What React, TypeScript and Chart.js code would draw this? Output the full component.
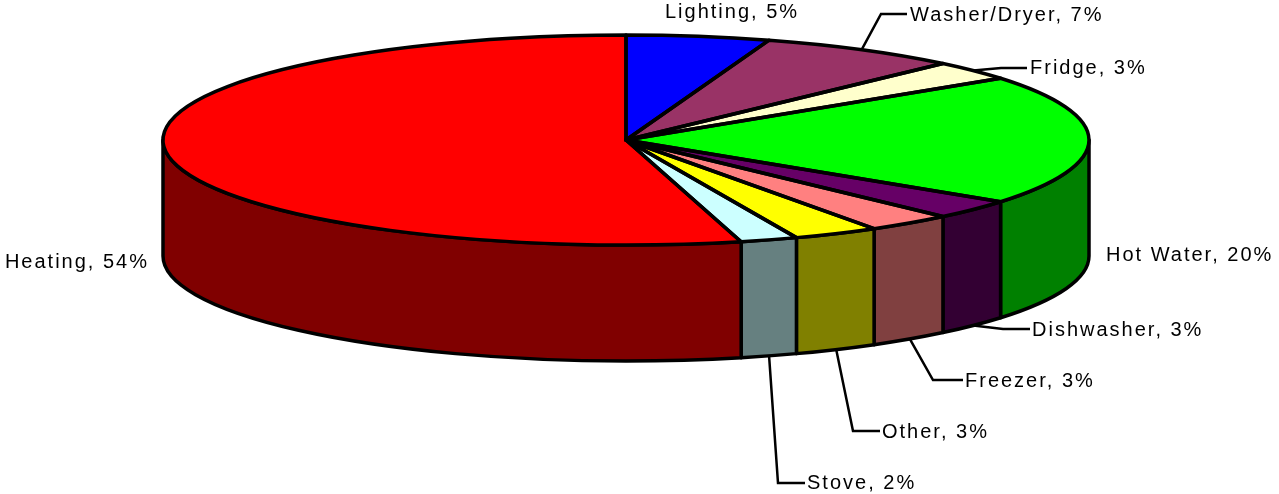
import React, { useEffect, useRef } from 'react';
import { Chart, registerables } from 'chart.js';

Chart.register(...registerables);

const categories = ['Lighting', 'Washer/Dryer', 'Fridge', 'Hot Water', 'Dishwasher', 'Freezer', 'Other', 'Stove', 'Heating'];
const values = [5, 7, 3, 20, 3, 3, 3, 2, 54];
const topColors = ['#0000FF', '#993366', '#FFFFCC', '#00FF00', '#660066', '#FF8080', '#FFFF00', '#CCFFFF', '#FF0000'];
const sideColors = ['#000080', '#4D1A33', '#808066', '#008000', '#330033', '#804040', '#808000', '#668080', '#800000'];

// geometry of the projected pie (layout, not data)
const CX = 626;
const CY = 140;
const RX = 463;
const RY = 105;
const DEPTH = 116;

type LabelLayout = { tx: number; ty: number; align: CanvasTextAlign; elbow?: [number, number]; end?: number };
const labelLayout: LabelLayout[] = [
  { tx: 665, ty: 12, align: 'left' },
  { tx: 910, ty: 15, align: 'left', elbow: [881, 14], end: 907 },
  { tx: 1030, ty: 68, align: 'left', elbow: [1001, 68], end: 1027 },
  { tx: 1106, ty: 255, align: 'left' },
  { tx: 1032, ty: 330, align: 'left', elbow: [1003, 329], end: 1030 },
  { tx: 965, ty: 381, align: 'left', elbow: [933, 380], end: 963 },
  { tx: 882, ty: 432, align: 'left', elbow: [853, 431], end: 880 },
  { tx: 807, ty: 483, align: 'left', elbow: [778, 483], end: 805 },
  { tx: 149, ty: 262, align: 'right' },
];

const pie3d = {
  id: 'pie3d',
  beforeDatasetsDraw(chart: any) {
    const ctx: CanvasRenderingContext2D = chart.ctx;
    const meta = chart.getDatasetMeta(0);
    // side walls
    ctx.save();
    ctx.lineWidth = 3.5;
    ctx.lineJoin = 'round';
    ctx.strokeStyle = '#000';
    meta.data.forEach((arc: any, i: number) => {
      const a = Math.max(arc.startAngle, 0);
      const b = Math.min(arc.endAngle, Math.PI);
      if (a >= b) return;
      ctx.beginPath();
      ctx.ellipse(CX, CY, RX, RY, 0, a, b, false);
      ctx.lineTo(CX + RX * Math.cos(b), CY + DEPTH + RY * Math.sin(b));
      ctx.ellipse(CX, CY + DEPTH, RX, RY, 0, b, a, true);
      ctx.closePath();
      ctx.fillStyle = sideColors[i];
      ctx.fill();
      ctx.stroke();
    });
    ctx.restore();
    // project the library's circular arcs onto the ellipse
    const a0 = meta.data[0];
    const r0 = a0.outerRadius;
    ctx.save();
    ctx.translate(CX, CY);
    ctx.scale(RX / r0, RY / r0);
    ctx.translate(-a0.x, -a0.y);
  },
  afterDatasetsDraw(chart: any) {
    const ctx: CanvasRenderingContext2D = chart.ctx;
    ctx.restore();
    const meta = chart.getDatasetMeta(0);
    ctx.save();
    ctx.lineWidth = 3.5;
    ctx.lineJoin = 'round';
    ctx.strokeStyle = '#000';
    meta.data.forEach((arc: any) => {
      ctx.beginPath();
      ctx.moveTo(CX, CY);
      ctx.ellipse(CX, CY, RX, RY, 0, arc.startAngle, arc.endAngle, false);
      ctx.closePath();
      ctx.stroke();
    });
    ctx.restore();

    // labels
    ctx.save();
    ctx.font = '20px "Liberation Sans", Arial, sans-serif';
    (ctx as any).letterSpacing = '2px';
    ctx.fillStyle = '#000';
    ctx.strokeStyle = '#000';
    ctx.lineWidth = 2.5;
    ctx.textBaseline = 'middle';
    meta.data.forEach((arc: any, i: number) => {
      const L = labelLayout[i];
      const t = (arc.startAngle + arc.endAngle) / 2;
      const ax = CX + RX * Math.cos(t);
      let ay = CY + RY * Math.sin(t);
      if (Math.sin(t) > 0) ay += DEPTH;
      if (L.elbow && L.end !== undefined) {
        ctx.beginPath();
        ctx.moveTo(ax, ay);
        ctx.lineTo(L.elbow[0], L.elbow[1]);
        ctx.lineTo(L.end, L.elbow[1]);
        ctx.stroke();
      }
      ctx.textAlign = L.align;
      ctx.fillText(`${categories[i]}, ${values[i]}%`, L.tx, L.ty);
    });
    ctx.restore();
  },
};

export default function App() {
  const ref = useRef<HTMLCanvasElement | null>(null);
  useEffect(() => {
    if (!ref.current) return;
    const chart = new Chart(ref.current, {
      type: 'pie',
      data: {
        labels: categories,
        datasets: [
          {
            data: values,
            backgroundColor: topColors,
            borderWidth: 0,
            hoverOffset: 0,
          },
        ],
      },
      options: {
        responsive: false,
        animation: false,
        events: [],
        plugins: { legend: { display: false }, tooltip: { enabled: false } },
      },
      plugins: [pie3d],
    });
    return () => chart.destroy();
  }, []);
  return (
    <div style={{ position: 'absolute', left: 0, top: 0, width: 1279, height: 494, background: '#fff' }}>
      <canvas ref={ref} width={1279} height={494} />
    </div>
  );
}
